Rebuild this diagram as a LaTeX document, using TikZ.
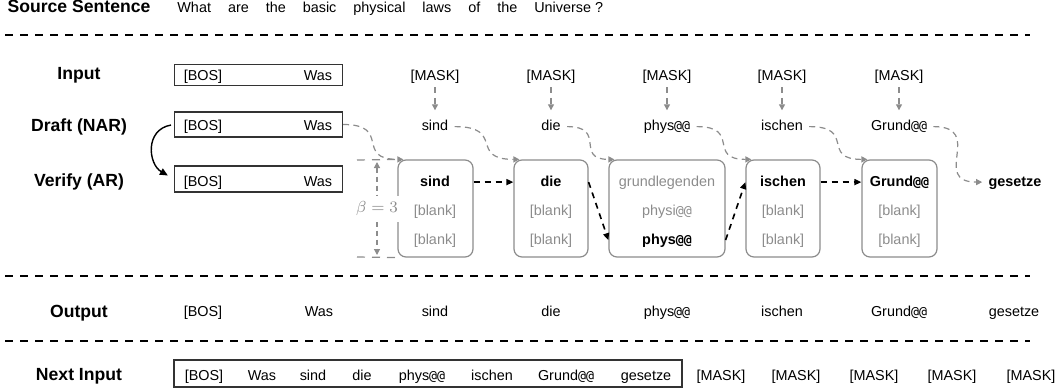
\documentclass[tikz,border=0pt]{standalone}
\usepackage{fontspec}
\setmainfont{Liberation Sans}
\newfontfamily\monofont{DejaVu Sans Mono}[Scale=0.92]
\usetikzlibrary{arrows.meta}
\colorlet{softgray}{black!45}
\newcommand{\bpe}{{\monofont @@}}
\begin{document}
\begin{tikzpicture}[x=0.5pt,y=-0.5pt,
lbl/.style={font=\fontsize{8.8}{10}\selectfont\bfseries,anchor=base,inner sep=0pt},
tok/.style={font=\fontsize{7.2}{8.6}\selectfont,anchor=base,inner xsep=3pt,inner ysep=0pt,text height=5.4pt,text depth=1.5pt},
faded/.style={tok,text=softgray},
hit/.style={tok,font=\fontsize{7.2}{8.6}\selectfont\bfseries},
seqbox/.style={draw=black!80,line width=0.55pt,inner sep=0pt},
candbox/.style={draw=softgray,line width=0.6pt,rounded corners=4pt,inner sep=0pt,minimum height=48.5pt},
rowline/.style={line width=0.6pt,dash pattern=on 4pt off 3.5pt},
flow/.style={softgray,line width=0.6pt,dash pattern=on 3pt off 2.2pt,-{Triangle[length=3pt,width=3pt]}},
pick/.style={line width=0.8pt,dash pattern=on 3pt off 2.5pt,-{Triangle[length=3.5pt,width=3pt]}}]
\useasboundingbox (0,0) rectangle (1062,391);
\node[lbl] (srclbl) at (79,12.7) {Source Sentence};
\node[tok,anchor=base west,inner xsep=0pt] (src) at (177,12.7) {\spaceskip=8.5pt What are the basic physical laws of the Universe\hspace{2pt}?};
\draw[rowline] (5,35) -- (1030,35);
\node[lbl] (inlbl) at (79,79) {Input};
\node[lbl] (draftlbl) at (79,131) {Draft (NAR)};
\node[lbl] (verlbl) at (79,186) {Verify (AR)};
\node[seqbox,minimum width=84pt,minimum height=10.5pt] (inbox) at (258.5,75) {};
\node[seqbox,minimum width=84pt,minimum height=12.5pt] (draftbox) at (258.5,124.5) {};
\node[seqbox,minimum width=84pt,minimum height=13pt] (verbox) at (258.5,179) {};
\foreach \y/\n in {80.5/in,130.5/draft,186/ver}{
\node[tok] (\n-bos) at (203,\y) {[BOS]};
\node[tok] (\n-was) at (318,\y) {Was};
}
\draw[line width=0.7pt,-{Triangle[length=4pt,width=3.5pt]},shorten <=1.5pt,shorten >=3.5pt] (draftbox.west) to[out=190,in=150,looseness=1.4] (verbox.west);
\foreach \x/\w [count=\i] in {435/sind,551/die,667/phys\bpe,782/ischen,899/Grund\bpe}{
\node[tok] (m\i) at (\x,80.5) {[MASK]};
\node[tok] (d\i) at (\x,130.5) {\w};
\draw[flow,shorten <=1.75pt,shorten >=4.5pt] (m\i.south) -- (d\i.north);
}
\foreach \x/\w/\i in {435.5/37.5pt/1,551/37pt/2,667/58pt/3,783/37pt/4,899.5/37.5pt/5}
\node[candbox,minimum width=\w] (cb\i) at (\x,208.5) {};
\node[hit] (c1a) at (435,186) {sind};
\node[faded] (c1b) at (435,215) {[blank]};
\node[faded] (c1c) at (435,244) {[blank]};
\node[hit] (c2a) at (551,186) {die};
\node[faded] (c2b) at (551,215) {[blank]};
\node[faded] (c2c) at (551,244) {[blank]};
\node[faded] (c3a) at (667,186) {grundlegenden};
\node[faded] (c3b) at (667,215) {physi\bpe};
\node[hit] (c3c) at (667,244) {phys\bpe};
\node[hit] (c4a) at (783,186) {ischen};
\node[faded] (c4b) at (783,215) {[blank]};
\node[faded] (c4c) at (783,244) {[blank]};
\node[hit] (c5a) at (899.5,186) {Grund\bpe};
\node[faded] (c5b) at (899.5,215) {[blank]};
\node[faded] (c5c) at (899.5,244) {[blank]};
\node[hit] (ges) at (1015,186) {gesetze};
\draw[flow] (draftbox.east) to[out=0,in=180,looseness=1.8] ([xshift=3pt]cb1.north west);
\draw[flow] (d1.east) to[out=0,in=180,looseness=1.8] ([xshift=3pt]cb2.north west);
\draw[flow] (d2.east) to[out=0,in=180,looseness=1.8] ([xshift=3pt]cb3.north west);
\draw[flow] (d3.east) to[out=0,in=180,looseness=1.8] ([xshift=3pt]cb4.north west);
\draw[flow] (d4.east) to[out=0,in=180,looseness=1.8] ([xshift=3pt]cb5.north west);
\draw[flow] (d5.east) to[out=0,in=180,looseness=1.8] (ges.west);
\draw[pick] (cb1.east |- c1a) -- (cb2.west |- c2a);
\draw[pick] (cb2.east |- c2a) -- (cb3.west |- c3c);
\draw[pick] (cb3.east |- c3c) -- (cb4.west |- c4a);
\draw[pick] (cb4.east |- c4a) -- (cb5.west |- c5a);
\coordinate (btop) at (357,160);
\coordinate (bbot) at (357,257);
\draw[softgray,rowline] (btop) -- (cb1.north west);
\draw[softgray,rowline] (bbot) -- (cb1.south west);
\draw[softgray,line width=0.6pt,dash pattern=on 2.5pt off 2pt,{Triangle[length=3pt,width=3pt]}-{Triangle[length=3pt,width=3pt]},shorten <=1pt,shorten >=1pt] ([xshift=10pt]btop) -- ([xshift=10pt]bbot);
\node[tok,font=\fontsize{7.8}{9}\selectfont,text=softgray,fill=white,anchor=center,inner ysep=3pt,inner xsep=1pt] (beta) at (377,209) {$\beta = 3$};
\draw[rowline] (5,276) -- (1030,276);
\node[lbl] (outlbl) at (79,317) {Output};
\foreach \x/\w [count=\i] in {203/{[BOS]},319/Was,435/sind,551/die,667/phys\bpe,782/ischen,899/Grund\bpe,1014/gesetze}
\node[tok] (o\i) at (\x,316) {\w};
\draw[rowline] (5,341) -- (1030,341);
\node[lbl] (nextlbl) at (79,380.5) {Next Input};
\node[seqbox,minimum width=254pt,minimum height=13.5pt] (nextbox) at (428,373.5) {};
\foreach \x/\w [count=\i] in {204/{[BOS]},262/Was,313/sind,362/die,422/phys\bpe,492/ischen,566/Grund\bpe,646/gesetze}
\node[tok] (n\i) at (\x,380) {\w};
\foreach \x [count=\i] in {721,796,874,952,1031}
\node[tok] (nm\i) at (\x,380) {[MASK]};
\end{tikzpicture}
\end{document}
